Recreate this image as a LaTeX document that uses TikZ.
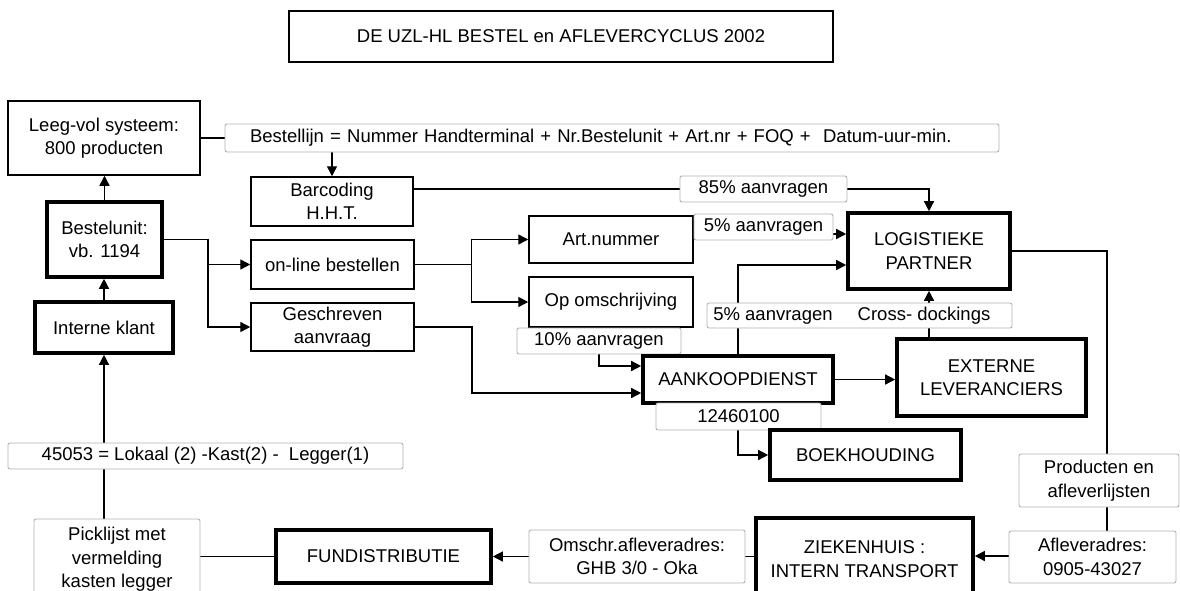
\documentclass[tikz,border=0pt]{standalone}
\usepackage{fontspec}
\setmainfont{Liberation Sans}
\usetikzlibrary{arrows.meta,backgrounds}
\begin{document}
\begin{tikzpicture}[x=1pt,y=-1pt,
  every node/.style={font=\fontsize{18.5}{23.5}\selectfont, inner sep=0pt, align=center},
  box/.style={draw=black, line width=1.5pt, fill=white},
  tbox/.style={draw=black, line width=3.6pt, fill=white},
  lab/.style={draw=black!30, line width=0.9pt, fill=white, rounded corners=2pt},
  conn/.style={line width=1.4pt, draw=black},
  arr/.style={conn, -{Triangle[length=10pt,width=10pt]}},
]
\useasboundingbox (0,0) rectangle (1180,590);
\clip (0,0) rectangle (1180,590);
% nodes
\node[box, minimum width=544pt, minimum height=51pt] (title) at (561,36.5) {DE UZL-HL BESTEL en AFLEVERCYCLUS 2002};
\node[box, minimum width=192pt, minimum height=74pt] (leeg) at (104,138) {Leeg-vol systeem:\\800 producten};
\node[lab, minimum width=774pt, minimum height=28pt, text width=724pt, align=left] (bestellijn) at (612,138) {Bestellijn = Nummer Handterminal + Nr.Bestelunit + Art.nr + FOQ +\ \ Datum-uur-min.};
\node[box, minimum width=162pt, minimum height=49pt] (barcoding) at (332,201.5) {Barcoding\\H.H.T.};
\node[tbox, minimum width=115pt, minimum height=75pt] (bestelunit) at (104.5,239.5) {Bestelunit:\\vb. 1194};
\node[box, minimum width=163pt, minimum height=49pt] (online) at (332.5,264.5) {on-line bestellen};
\node[box, minimum width=163pt, minimum height=48pt] (geschreven) at (332.5,327) {Geschreven\\aanvraag};
\node[tbox, minimum width=138pt, minimum height=51pt] (interne) at (104,327.5) {Interne klant};
\node[box, minimum width=164pt, minimum height=47pt] (artnummer) at (611,239.5) {Art.nummer};
\node[box, minimum width=164pt, minimum height=50pt] (opomschr) at (611,302) {Op omschrijving};
\node[lab, minimum width=167pt, minimum height=26pt] (lab85) at (763.5,189) {85\% aanvragen};
\node[lab, minimum width=139pt, minimum height=26pt] (lab5a) at (763.5,227) {5\% aanvragen};
\node[tbox, minimum width=162pt, minimum height=76pt] (logist) at (929,251) {LOGISTIEKE\\PARTNER};
\node[lab, minimum width=164pt, minimum height=26pt] (lab10) at (599,341) {10\% aanvragen};
\node[tbox, minimum width=190pt, minimum height=47pt] (aankoop) at (738,379.5) {AANKOOPDIENST};
\node[lab, minimum width=305pt, minimum height=25pt] (labcross) at (859.5,315.5) {};
\node (t5b) at (773,315.5) {5\% aanvragen};
\node (tcross) at (924,315.5) {Cross- dockings};
\node[tbox, minimum width=189pt, minimum height=77pt] (externe) at (991.5,377.5) {EXTERNE\\LEVERANCIERS};
\node[lab, minimum width=165pt, minimum height=27pt] (lab124) at (738.5,416.5) {12460100};
\node[tbox, minimum width=191pt, minimum height=50pt] (boekh) at (865.5,455) {BOEKHOUDING};
\node[lab, minimum width=160pt, minimum height=53pt] (producten) at (1099,480.5) {Producten en\\afleverlijsten};
\node[lab, minimum width=167pt, minimum height=52pt] (aflever) at (1092.5,557) {Afleveradres:\\0905-43027};
\node[tbox, minimum width=217pt, minimum height=82pt] (zieken) at (864.5,559) {ZIEKENHUIS :\\INTERN TRANSPORT};
\node[lab, minimum width=216pt, minimum height=53pt] (omschr) at (637,556.5) {Omschr.afleveradres:\\GHB 3/0 - Oka};
\node[tbox, minimum width=215pt, minimum height=53pt] (fund) at (383.5,556.5) {FUNDISTRIBUTIE};
\node[lab, minimum width=166pt, minimum height=81pt] (pick) at (117,559.5) {Picklijst met\\vermelding\\kasten legger};
\node[lab, minimum width=395pt, minimum height=26pt] (lab45) at (205.5,456) {45053 = Lokaal (2) -Kast(2) -\ \ Legger(1)};
\coordinate (j1) at (208,239.5);
\coordinate (j2) at (471.5,264.5);
\coordinate (j3) at (472,327);
\coordinate (c1) at (1107,556);
% connectors
\begin{scope}[on background layer]
\draw[arr] (leeg.east) -| (barcoding.north);
\draw[arr] (barcoding.east |- lab85) -| (logist.north);
\draw[arr] ([yshift=5.5pt]artnummer.east) -- ([yshift=5.5pt]artnummer.east -| logist.west);
\draw[arr] (aankoop.north) |- ([yshift=-14pt]logist.west);
\draw[arr] (logist.south |- externe.north) -- (logist.south);
\draw[arr] (bestelunit.east) -- (j1) |- (online.west);
\draw[arr] (j1) |- (geschreven.west);
\draw[arr] (bestelunit.north) -- (bestelunit.north |- leeg.south);
\draw[arr] (interne.north) -- (interne.north |- bestelunit.south);
\draw[arr] (interne.south |- pick.north) -- (interne.south);
\draw[arr] (online.east) -- (j2) |- (artnummer.west);
\draw[arr] (j2) |- (opomschr.west);
\draw[arr] (geschreven.east) -- (j3) |- ([yshift=-13.5pt]aankoop.west);
\draw[arr] (lab10 |- opomschr.south) |- ([yshift=13.5pt]aankoop.west);
\draw[arr] (aankoop.east) -- (aankoop.east -| externe.west);
\draw[arr] (aankoop.south) |- (boekh.west);
\draw[arr] (logist.east) -| (c1) -- (c1 -| zieken.east);
\draw[arr] (fund.east -| zieken.west) -- (fund.east);
\draw[conn] (fund.west) -- (fund.west -| pick.east);
\end{scope}
\end{tikzpicture}
\end{document}
